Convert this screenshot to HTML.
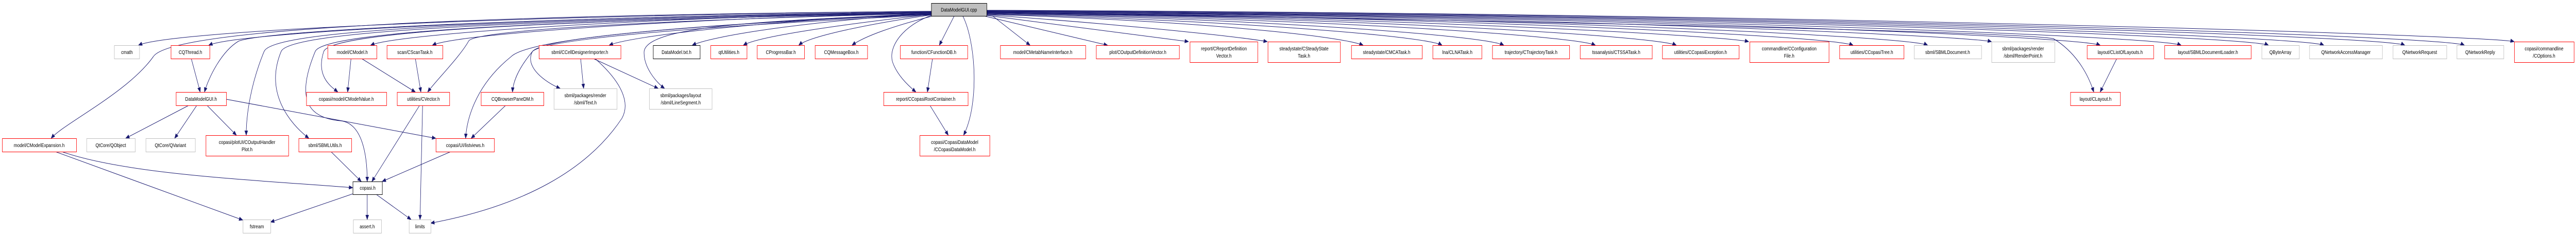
<!DOCTYPE html>
<html><head><meta charset="utf-8"><style>
html,body{margin:0;padding:0;background:#fff;overflow:hidden;width:100%;height:100%;}
svg{display:block;width:100vw;height:100vh;}
text{font-family:"Liberation Sans",Helvetica,Arial,sans-serif;font-size:10px;fill:#000;}
</style></head><body>
<svg viewBox="0 0 6047 459" preserveAspectRatio="none" xmlns="http://www.w3.org/2000/svg">
<defs>
<marker id="a" markerWidth="10" markerHeight="8" refX="9" refY="4" orient="auto" markerUnits="userSpaceOnUse">
<path d="M0,0 L10,4 L0,8 z" fill="#191970"/>
</marker>
</defs>
<g fill="none" stroke="#191970" stroke-width="1" marker-end="url(#a)">
<path d="M2186 22 C1200 30, 400 60, 325 88"/>
<path d="M2186 23 C1300 32, 560 62, 490 88"/>
<path d="M2186 24 C1500 34, 930 66, 870 88"/>
<path d="M2186 25 C1600 36, 1070 66, 1015 88"/>
<path d="M2186 26 C1800 40, 1480 70, 1430 88"/>
<path d="M2186 27 C1900 40, 1670 70, 1625 88"/>
<path d="M2186 28 C2000 45, 1780 70, 1745 88"/>
<path d="M2186 29 C2050 45, 1900 70, 1875 88"/>
<path d="M2190 31 C2100 50, 2030 70, 2000 88"/>
<path d="M2240 31 L2205 88"/>
<path d="M2186 23 C1200 35, 620 60, 560 80 C520 100, 490 150, 480 179"/>
<path d="M2186 22 C1000 30, 400 60, 360 110 C300 180, 150 240, 120 269"/>
<path d="M2186 23 C1100 40, 640 60, 620 100 C590 160, 578 220, 578 263"/>
<path d="M2186 24 C1200 40, 680 60, 660 100 C620 180, 680 240, 725 269"/>
<path d="M2186 25 C1300 40, 760 60, 740 100 C690 200, 730 230, 800 235 C850 240, 862 300, 862 353"/>
<path d="M2186 25 C1300 40, 780 60, 760 100 C740 150, 780 170, 793 179"/>
<path d="M2186 26 C1500 40, 1110 60, 1100 80 C1080 110, 1020 160, 1004 179"/>
<path d="M2186 27 C1700 45, 1250 70, 1200 110 C1110 170, 1095 240, 1093 269"/>
<path d="M2186 28 C1700 45, 1280 70, 1250 100 C1210 140, 1204 165, 1203 179"/>
<path d="M2186 29 C1800 45, 1290 70, 1250 100 C1230 130, 1280 160, 1315 172"/>
<path d="M2186 27 C1800 40, 1520 50, 1512 100 C1510 130, 1540 160, 1560 172"/>
<path d="M2186 30 C2120 50, 2085 90, 2095 120 C2105 145, 2130 165, 2150 179"/>
<path d="M2260 31 C2290 80, 2300 200, 2262 263"/>
<path d="M449 114 L470 179"/>
<path d="M824 114 L816 179"/>
<path d="M849 114 L975 179"/>
<path d="M975 114 L988 179"/>
<path d="M443 205 L295 269"/>
<path d="M462 205 L410 269"/>
<path d="M486 205 L555 263"/>
<path d="M531 193 L1023 269"/>
<path d="M130 295 L570 428"/>
<path d="M145 295 C300 340, 600 350, 828 365"/>
<path d="M777 295 L848 353"/>
<path d="M985 205 L873 353"/>
<path d="M992 205 L986 427"/>
<path d="M1058 295 L897 353"/>
<path d="M828 377 L635 432"/>
<path d="M862 378 L862 427"/>
<path d="M883 378 L965 427"/>
<path d="M1187 205 L1106 269"/>
<path d="M1363 114 L1370 172"/>
<path d="M1393 114 L1545 172"/>
<path d="M1397 114 C1460 160, 1480 200, 1460 230 C1380 330, 1230 400, 1011 434"/>
<path d="M2189 114 L2177 179"/>
<path d="M2183 205 L2226 263"/>
<path d="M4969 114 L4930 179"/>
<path d="M2316 24 C3500 40, 4700 60, 4820 75 C4870 100, 4900 140, 4915 179"/>
<path d="M2330 31 L2418 88"/>
<path d="M2310 31 L2600 88"/>
<path d="M2316 30 C2500 50, 2700 70, 2790 81"/>
<path d="M2316 29 C2600 45, 2900 70, 2975 81"/>
<path d="M2316 28 C2800 40, 3150 70, 3200 88"/>
<path d="M2316 27 C2900 40, 3350 70, 3385 88"/>
<path d="M2316 26 C3000 38, 3490 70, 3530 88"/>
<path d="M2316 26 C3100 36, 3700 70, 3745 88"/>
<path d="M2316 25 C3200 35, 3890 70, 3935 88"/>
<path d="M2316 25 C3300 34, 4050 70, 4105 81"/>
<path d="M2316 24 C3400 33, 4300 70, 4350 88"/>
<path d="M2316 24 C3500 32, 4480 70, 4525 88"/>
<path d="M2316 23 C3600 31, 4620 70, 4675 81"/>
<path d="M2316 23 C3700 30, 4880 70, 4930 88"/>
<path d="M2316 22 C3800 30, 5070 70, 5120 88"/>
<path d="M2316 22 C3900 29, 5280 70, 5325 88"/>
<path d="M2316 21 C4000 28, 5410 70, 5455 88"/>
<path d="M2316 21 C4100 28, 5600 70, 5645 88"/>
<path d="M2316 20 C4200 27, 5740 70, 5785 88"/>
<path d="M2316 20 C4300 26, 5850 70, 5902 81"/>
</g>
<g stroke-width="1">
<rect x="2186.5" y="6.5" width="130" height="25" fill="#bfbfbf" stroke="#000"/>
<text x="2251" y="22.5" text-anchor="middle">DataModelGUI.cpp</text>
</g>
<g fill="#fff" stroke-width="1">
<rect x="268.5" y="88.5" width="59" height="26" stroke="#bfbfbf"/>
<rect x="401.5" y="88.5" width="91" height="26" stroke="#ff0000"/>
<rect x="769.5" y="88.5" width="115" height="26" stroke="#ff0000"/>
<rect x="908.5" y="88.5" width="131" height="26" stroke="#ff0000"/>
<rect x="1265.5" y="88.5" width="192" height="26" stroke="#ff0000"/>
<rect x="1533.5" y="88.5" width="110" height="26" stroke="#000"/>
<rect x="1668.5" y="88.5" width="85" height="26" stroke="#ff0000"/>
<rect x="1777.5" y="88.5" width="111" height="26" stroke="#ff0000"/>
<rect x="1913.5" y="88.5" width="123" height="26" stroke="#ff0000"/>
<rect x="2113.5" y="88.5" width="158" height="26" stroke="#ff0000"/>
<rect x="2348.5" y="88.5" width="200" height="26" stroke="#ff0000"/>
<rect x="2573.5" y="88.5" width="195" height="26" stroke="#ff0000"/>
<rect x="2793.5" y="81.5" width="159" height="40" stroke="#ff0000"/>
<rect x="2976.5" y="81.5" width="170" height="40" stroke="#ff0000"/>
<rect x="3172.5" y="88.5" width="166" height="26" stroke="#ff0000"/>
<rect x="3363.5" y="88.5" width="115" height="26" stroke="#ff0000"/>
<rect x="3503.5" y="88.5" width="181" height="26" stroke="#ff0000"/>
<rect x="3709.5" y="88.5" width="169" height="26" stroke="#ff0000"/>
<rect x="3902.5" y="88.5" width="180" height="26" stroke="#ff0000"/>
<rect x="4107.5" y="81.5" width="186" height="40" stroke="#ff0000"/>
<rect x="4318.5" y="88.5" width="151" height="26" stroke="#ff0000"/>
<rect x="4493.5" y="88.5" width="158" height="26" stroke="#bfbfbf"/>
<rect x="4675.5" y="81.5" width="148" height="40" stroke="#bfbfbf"/>
<rect x="4899.5" y="88.5" width="156" height="26" stroke="#ff0000"/>
<rect x="5081.5" y="88.5" width="203" height="26" stroke="#ff0000"/>
<rect x="5309.5" y="88.5" width="88" height="26" stroke="#bfbfbf"/>
<rect x="5421.5" y="88.5" width="171" height="26" stroke="#bfbfbf"/>
<rect x="5617.5" y="88.5" width="126" height="26" stroke="#bfbfbf"/>
<rect x="5767.5" y="88.5" width="110" height="26" stroke="#bfbfbf"/>
<rect x="5902.5" y="81.5" width="140" height="40" stroke="#ff0000"/>
<rect x="413.5" y="179.5" width="118" height="26" stroke="#ff0000"/>
<rect x="719.5" y="179.5" width="188" height="26" stroke="#ff0000"/>
<rect x="932.5" y="179.5" width="123" height="26" stroke="#ff0000"/>
<rect x="1129.5" y="179.5" width="147" height="26" stroke="#ff0000"/>
<rect x="1300.5" y="172.5" width="148" height="40" stroke="#bfbfbf"/>
<rect x="1524.5" y="172.5" width="147" height="40" stroke="#bfbfbf"/>
<rect x="2074.5" y="179.5" width="198" height="26" stroke="#ff0000"/>
<rect x="4860.5" y="179.5" width="117" height="26" stroke="#ff0000"/>
<rect x="5.5" y="269.5" width="174" height="26" stroke="#ff0000"/>
<rect x="203.5" y="269.5" width="114" height="26" stroke="#bfbfbf"/>
<rect x="342.5" y="269.5" width="116" height="26" stroke="#bfbfbf"/>
<rect x="483.5" y="263.5" width="194" height="40" stroke="#ff0000"/>
<rect x="701.5" y="269.5" width="124" height="26" stroke="#ff0000"/>
<rect x="1023.5" y="269.5" width="137" height="26" stroke="#ff0000"/>
<rect x="2159.5" y="263.5" width="164" height="40" stroke="#ff0000"/>
<rect x="828.5" y="353.5" width="69" height="25" stroke="#000"/>
<rect x="570.5" y="427.5" width="65" height="26" stroke="#bfbfbf"/>
<rect x="829.5" y="427.5" width="66" height="26" stroke="#bfbfbf"/>
<rect x="960.5" y="427.5" width="51" height="26" stroke="#bfbfbf"/>
</g>
<g text-anchor="middle">
<text x="298" y="105">cmath</text>
<text x="447" y="105">CQThread.h</text>
<text x="827" y="105">model/CModel.h</text>
<text x="974" y="105">scan/CScanTask.h</text>
<text x="1361" y="105">sbml/CCellDesignerImporter.h</text>
<text x="1588" y="105">DataModel.txt.h</text>
<text x="1711" y="105">qtUtilities.h</text>
<text x="1833" y="105">CProgressBar.h</text>
<text x="1975" y="105">CQMessageBox.h</text>
<text x="2192" y="105">function/CFunctionDB.h</text>
<text x="2448" y="105">model/CMetabNameInterface.h</text>
<text x="2671" y="105">plot/COutputDefinitionVector.h</text>
<text x="2873" y="98">report/CReportDefinition</text>
<text x="2873" y="112">Vector.h</text>
<text x="3061" y="98">steadystate/CSteadyState</text>
<text x="3061" y="112">Task.h</text>
<text x="3255" y="105">steadystate/CMCATask.h</text>
<text x="3421" y="105">lna/CLNATask.h</text>
<text x="3594" y="105">trajectory/CTrajectoryTask.h</text>
<text x="3794" y="105">tssanalysis/CTSSATask.h</text>
<text x="3992" y="105">utilities/CCopasiException.h</text>
<text x="4200" y="98">commandline/CConfiguration</text>
<text x="4200" y="112">File.h</text>
<text x="4394" y="105">utilities/CCopasiTree.h</text>
<text x="4572" y="105">sbml/SBMLDocument.h</text>
<text x="4749" y="98">sbml/packages/render</text>
<text x="4749" y="112">/sbml/RenderPoint.h</text>
<text x="4977" y="105">layout/CListOfLayouts.h</text>
<text x="5183" y="105">layout/SBMLDocumentLoader.h</text>
<text x="5353" y="105">QByteArray</text>
<text x="5507" y="105">QNetworkAccessManager</text>
<text x="5680" y="105">QNetworkRequest</text>
<text x="5822" y="105">QNetworkReply</text>
<text x="5972" y="98">copasi/commandline</text>
<text x="5972" y="112">/COptions.h</text>
<text x="472" y="196">DataModelGUI.h</text>
<text x="813" y="196">copasi/model/CModelValue.h</text>
<text x="994" y="196">utilities/CVector.h</text>
<text x="1203" y="196">CQBrowserPaneDM.h</text>
<text x="1374" y="189">sbml/packages/render</text>
<text x="1374" y="203">/sbml/Text.h</text>
<text x="1598" y="189">sbml/packages/layout</text>
<text x="1598" y="203">/sbml/LineSegment.h</text>
<text x="2173" y="196">report/CCopasiRootContainer.h</text>
<text x="4919" y="196">layout/CLayout.h</text>
<text x="92" y="286">model/CModelExpansion.h</text>
<text x="260" y="286">QtCore/QObject</text>
<text x="400" y="286">QtCore/QVariant</text>
<text x="580" y="280">copasi/plotUI/COutputHandler</text>
<text x="580" y="294">Plot.h</text>
<text x="763" y="286">sbml/SBMLUtils.h</text>
<text x="1092" y="286">copasi/UI/listviews.h</text>
<text x="2241" y="280">copasi/CopasiDataModel</text>
<text x="2241" y="294">/CCopasiDataModel.h</text>
<text x="863" y="369">copasi.h</text>
<text x="603" y="444">fstream</text>
<text x="862" y="444">assert.h</text>
<text x="986" y="444">limits</text>
</g>
</svg>
</body></html>
